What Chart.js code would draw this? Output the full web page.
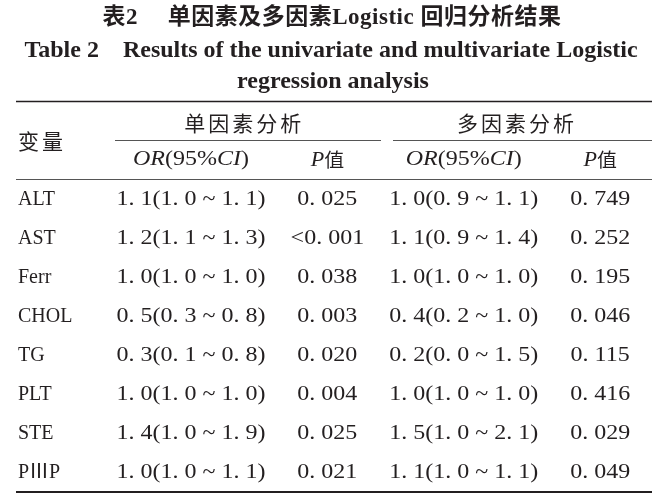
<!DOCTYPE html>
<html>
<head>
<meta charset="utf-8">
<script src="https://cdn.jsdelivr.net/npm/chart.js@4.4.1/dist/chart.umd.min.js"></script>
<style>
html, body { margin: 0; background: #fff; }
#wrap { width: 666px; height: 504px; }
</style>
</head>
<body>
<div id="wrap"><canvas id="table"></canvas></div>
<script>
// table data
const variables = ['ALT', 'AST', 'Ferr', 'CHOL', 'TG', 'PLT', 'STE', 'P\u2162P']
const uniOR = [1.1, 1.2, 1.0, 0.5, 0.3, 1.0, 1.4, 1.0]
const uniLow = [1.0, 1.1, 1.0, 0.3, 0.1, 1.0, 1.0, 1.0]
const uniHigh = [1.1, 1.3, 1.0, 0.8, 0.8, 1.0, 1.9, 1.1]
const uniP = ['0.025', '<0.001', '0.038', '0.003', '0.020', '0.004', '0.025', '0.021']
const multiOR = [1.0, 1.1, 1.0, 0.4, 0.2, 1.0, 1.5, 1.1]
const multiLow = [0.9, 0.9, 1.0, 0.2, 0.0, 1.0, 1.0, 1.0]
const multiHigh = [1.1, 1.4, 1.0, 1.0, 1.5, 1.0, 2.1, 1.1]
const multiP = ['0.749', '0.252', '0.195', '0.046', '0.115', '0.416', '0.029', '0.049']

const ink = '#231f20'
const serif = '"Liberation Serif", "Noto Sans CJK SC", serif'
const cjk = '"Noto Sans CJK SC", sans-serif'
const stretch = 1.2  // the journal font has wide digits

// journal style: "1. 1" with a space after the point
const fmt = v => v.toFixed(1).replace('.', '. ')
const fmtP = s => s.replace('.', '. ')
const ciText = (or, lo, hi) => or.map((v, i) => `${fmt(v)}(${fmt(lo[i])} ~ ${fmt(hi[i])})`)

const columns = [
    ciText(uniOR, uniLow, uniHigh),
    uniP.map(fmtP),
    ciText(multiOR, multiLow, multiHigh),
    multiP.map(fmtP)
]

// draw a list of text runs centred on cx, stretched horizontally
function drawRuns(ctx, runs, cx, y, sx) {
    let total = 0
    runs.forEach(r => { ctx.font = r.font; total += ctx.measureText(r.t).width })
    ctx.save()
    ctx.translate(cx, y)
    ctx.scale(sx, 1)
    let x = -total / 2
    ctx.textAlign = 'left'
    runs.forEach(r => {
        ctx.font = r.font
        ctx.fillText(r.t, x, 0)
        x += ctx.measureText(r.t).width
    })
    ctx.restore()
}

function orHeader() {
    return [
        {t: 'OR', font: 'italic 20px ' + serif},
        {t: '(95%', font: '20px ' + serif},
        {t: 'CI', font: 'italic 20px ' + serif},
        {t: ')', font: '20px ' + serif}
    ]
}
function pHeader() {
    return [
        {t: 'P', font: 'italic 21px ' + serif},
        {t: '值', font: '19px ' + cjk}
    ]
}

const tablePlugin = {
    id: 'tableText',
    afterDatasetsDraw(chart) {
        const ctx = chart.ctx
        const area = chart.chartArea
        const x = chart.scales.x
        const left = 16
        const right = area.right
        ctx.save()
        ctx.fillStyle = ink
        ctx.strokeStyle = ink
        ctx.textBaseline = 'middle'

        // cells
        chart.data.datasets.forEach((ds, d) => {
            chart.getDatasetMeta(d).data.forEach((pt, i) => {
                drawRuns(ctx, [{t: ds.texts[i], font: '20px ' + serif}], pt.x, pt.y, stretch)
            })
        })

        // titles
        ctx.textAlign = 'center'
        ctx.letterSpacing = '0.5px'
        ctx.font = 'bold 23px ' + serif
        ctx.fillText('表2\u2003 单因素及多因素Logistic 回归分析结果', 332, 18)
        ctx.letterSpacing = '0px'
        ctx.font = 'bold 24px ' + serif
        ctx.fillText('Table 2\u2003Results of the univariate and multivariate Logistic', 331, 51)
        ctx.fillText('regression analysis', 333, 82)

        // header
        const c0 = x.getPixelForValue(0), c1 = x.getPixelForValue(1)
        const c2 = x.getPixelForValue(2), c3 = x.getPixelForValue(3)
        ctx.font = '21px ' + cjk
        ctx.letterSpacing = '3px'
        ctx.textAlign = 'center'
        ctx.fillText('单因素分析', (c0 + c1) / 2 - 15, 123)
        ctx.fillText('多因素分析', (c2 + c3) / 2 - 15, 123)
        ctx.textAlign = 'left'
        ctx.fillText('变量', 18, 141)
        ctx.letterSpacing = '0px'

        drawRuns(ctx, orHeader(), c0, 160, stretch)
        drawRuns(ctx, pHeader(), c1, 160, 1.05)
        drawRuns(ctx, orHeader(), c2, 160, stretch)
        drawRuns(ctx, pHeader(), c3, 160, 1.05)

        // rules
        const hline = (x1, x2, y, w, color) => {
            ctx.beginPath()
            ctx.lineWidth = w
            ctx.strokeStyle = color
            ctx.moveTo(x1, y)
            ctx.lineTo(x2, y)
            ctx.stroke()
        }
        hline(left, right, 101.5, 1.5, ink)
        hline(115, 381, 140.5, 1, '#555')
        hline(393, right, 140.5, 1, '#555')
        hline(left, right, 179.5, 1, '#555')
        hline(left, right, 492, 2, ink)
        ctx.restore()
    }
}

const datasets = columns.map((col, c) => ({
    label: 'col' + c,
    data: variables.map(v => ({x: c, y: v})),
    texts: col,
    pointRadius: 0,
    pointHoverRadius: 0,
    showLine: false
}))

new Chart('table', {
    type: 'scatter',
    data: {datasets},
    plugins: [tablePlugin],
    options: {
        responsive: true,
        maintainAspectRatio: false,
        animation: false,
        events: [],
        layout: {padding: {top: 180, bottom: 10, left: 18, right: 14}},
        plugins: {legend: {display: false}, tooltip: {enabled: false}},
        scales: {
            x: {
                type: 'linear',
                display: false,
                min: -0.535,
                max: 3.38
            },
            y: {
                type: 'category',
                labels: variables,
                offset: true,
                grid: {display: false},
                border: {display: false},
                afterFit(scale) { scale.width = 100 },
                ticks: {
                    crossAlign: 'far',
                    padding: 0,
                    color: ink,
                    font: {family: serif, size: 20}
                }
            }
        }
    }
})
</script>
</body>
</html>
